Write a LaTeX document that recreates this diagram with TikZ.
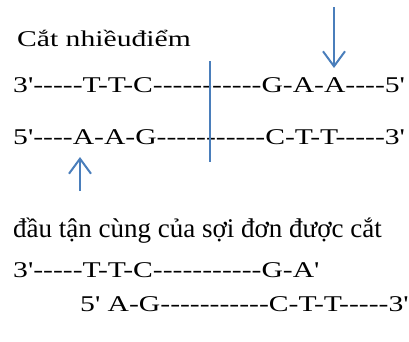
\documentclass[tikz,border=0pt]{standalone}
\usepackage{fontspec}
\setmainfont{Liberation Serif}[Ligatures=TeXOff]
\newfontfamily\widefont{Liberation Serif}[FakeStretch=1.317,Ligatures=TeXOff]
\usetikzlibrary{arrows.meta,positioning}
\definecolor{CutBlue}{HTML}{4A7EBB}

\begin{document}
\begin{tikzpicture}[x=1pt,y=1pt,>={Straight Barb[length=15pt,width=22pt]}]
      \tikzset{strand/.style={inner sep=0pt,anchor=base west,font=\widefont\fontsize{22.5}{27}\selectfont},
        note/.style={inner sep=0pt,anchor=base west,font=\fontsize{27}{32}\selectfont},
        cutmark/.style={color=CutBlue,line width=2pt}}
      \useasboundingbox (0,0) rectangle (409,-341);
      \node[strand] (cutlabel) at (17,-46) {Cắt nhiềuđiểm};
      \node[strand] (topstrand) at (13,-92.5) {3'-----T-T-C-----------G-A-A----5'};
      \node[strand] (botstrand) at (13,-144) {5'----A-A-G-----------C-T-T-----3'};
      \node[note] (endlabel) at (13,-237) {đầu tận cùng của sợi đơn được cắt};
      \node[strand] (fragtop) at (13,-277) {3'-----T-T-C-----------G-A'};
      \node[strand] (fragbot) at (80,-311) {5' A-G-----------C-T-T-----3'};
      % cut marks
      \coordinate (downstart) at (334,-7);
      \coordinate (downtip) at (334,-68);
      \coordinate (upstart) at (80,-191);
      \coordinate (uptip) at (80,-157);
      \coordinate (splittop) at (209.5,-61);
      \coordinate (splitbot) at (209.5,-162);
      \draw[->,cutmark] (downstart) -- (downtip);
      \draw[->,cutmark] (upstart) -- (uptip);
      \draw[cutmark] (splittop) -- (splitbot);
    \end{tikzpicture}
\end{document}
